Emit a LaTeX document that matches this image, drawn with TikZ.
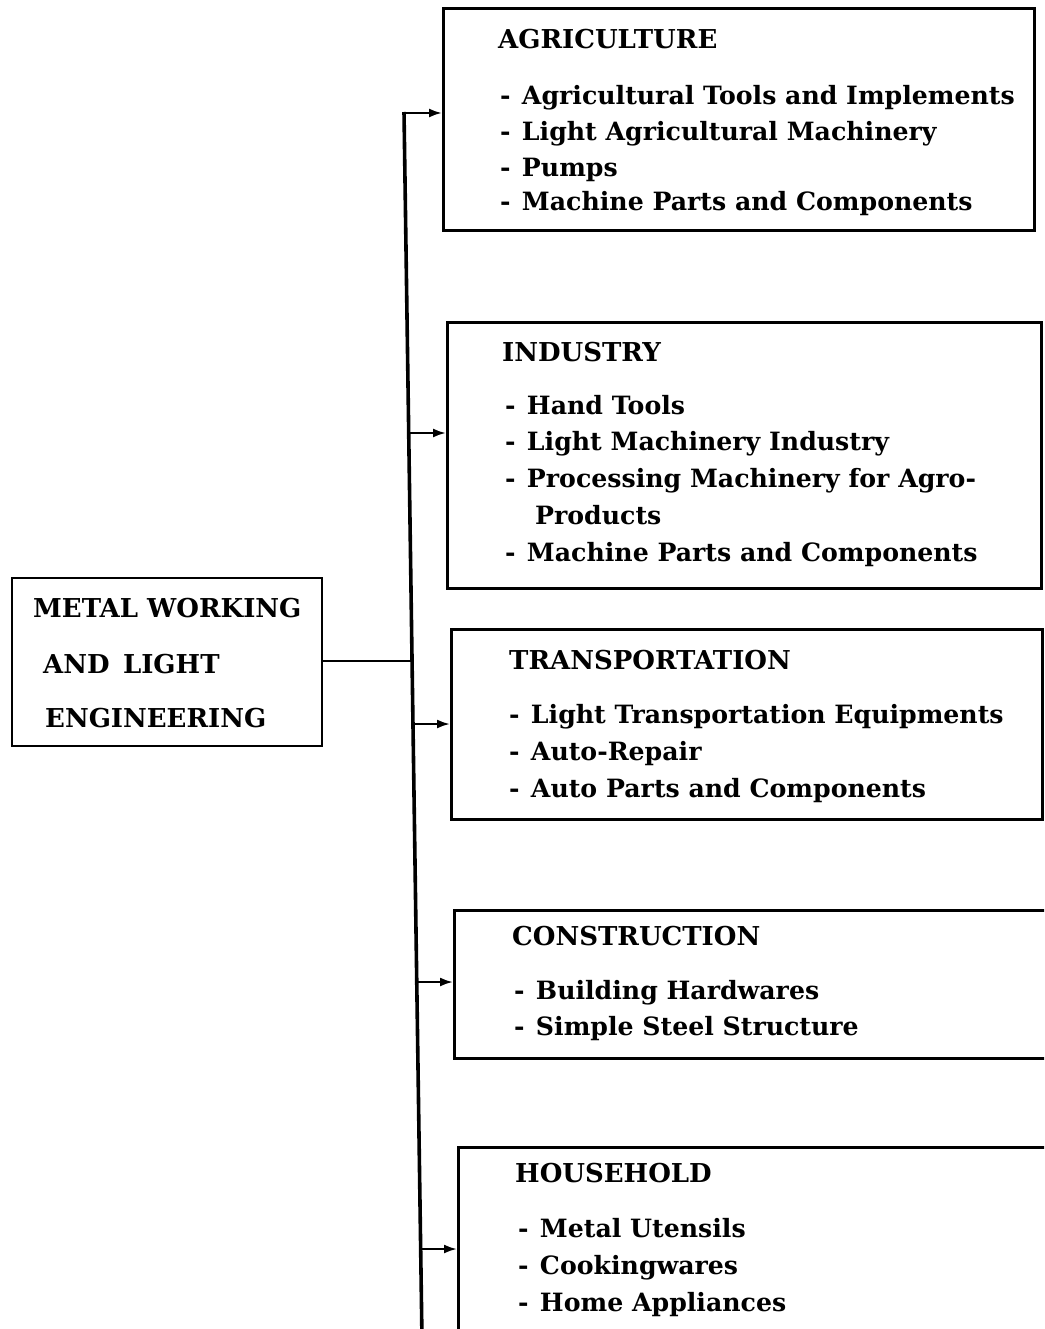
\documentclass[tikz,border=0pt]{standalone}
\usepackage{fontspec}
\setmainfont{DejaVu Serif}
\usetikzlibrary{arrows.meta}
\newcommand{\txtfont}{\fontsize{26}{30}\selectfont\bfseries}
\newcommand{\itmfont}{\fontsize{25.2}{30}\selectfont\bfseries}
\newcommand{\dsh}{-\hspace{0.45em}}
\begin{document}
\begin{tikzpicture}[x=1pt,y=-1pt,
  boxline/.style={line width=2.8pt},
  lbl/.style={anchor=base west, inner sep=0pt, font=\txtfont},
  itm/.style={anchor=base west, inner sep=0pt, font=\itmfont},
  conn/.style={line width=2.2pt},
  arr/.style={line width=2.2pt, -{Latex[length=13pt,width=9pt]}},
  trunkline/.style={line width=3.6pt}]
\useasboundingbox (0,0) rectangle (1044,1329);
\clip (0,0) rectangle (1044,1329);
\fill[white] (0,0) rectangle (1044,1329);

% main box
\node[draw, boxline, minimum width=310pt, minimum height=168pt, inner sep=0pt] (main) at (167,662) {};
\node[lbl] (m1) at (33,617) {METAL WORKING};
\node[lbl] (m2) at (43,673) {AND\, LIGHT};
\node[lbl] (m3) at (45,727) {ENGINEERING};

% boxes (some run past the page edge)
\node[draw, boxline, minimum width=591pt, minimum height=222pt, inner sep=0pt, anchor=north west] (agri) at (442,7) {};
\node[draw, boxline, minimum width=594pt, minimum height=266pt, inner sep=0pt, anchor=north west] (ind) at (446,321) {};
\node[draw, boxline, minimum width=591pt, minimum height=190pt, inner sep=0pt, anchor=north west] (trans) at (450,628) {};
\node[draw, boxline, minimum width=640pt, minimum height=148pt, inner sep=0pt, anchor=north west] (cons) at (453,909) {};
\node[draw, boxline, minimum width=640pt, minimum height=300pt, inner sep=0pt, anchor=north west] (house) at (457,1146) {};

% texts
\node[lbl] (a0) at (498,49) {AGRICULTURE};
\node[itm] (a1) at (500,105) {\dsh Agricultural Tools and Implements};
\node[itm] (a2) at (500,141) {\dsh Light Agricultural Machinery};
\node[itm] (a3) at (500,177) {\dsh Pumps};
\node[itm] (a4) at (500,211) {\dsh Machine Parts and Components};

\node[lbl] (i0) at (502,361) {INDUSTRY};
\node[itm] (i1) at (505,414) {\dsh Hand Tools};
\node[itm] (i2) at (505,450) {\dsh Light Machinery Industry};
\node[itm] (i3) at (505,487) {\dsh Processing Machinery for Agro-};
\node[itm] (i4) at (535,524) {Products};
\node[itm] (i5) at (505,561) {\dsh Machine Parts and Components};

\node[lbl] (t0) at (509,669) {TRANSPORTATION};
\node[itm] (t1) at (509,723) {\dsh Light Transportation Equipments};
\node[itm] (t2) at (509,760) {\dsh Auto-Repair};
\node[itm] (t3) at (509,797) {\dsh Auto Parts and Components};

\node[lbl] (c0) at (512,945) {CONSTRUCTION};
\node[itm] (c1) at (514,999) {\dsh Building Hardwares};
\node[itm] (c2) at (514,1035) {\dsh Simple Steel Structure};

\node[lbl] (h0) at (515,1182) {HOUSEHOLD};
\node[itm] (h1) at (518,1237) {\dsh Metal Utensils};
\node[itm] (h2) at (518,1274) {\dsh Cookingwares};
\node[itm] (h3) at (518,1311) {\dsh Home Appliances};

% trunk (slightly skewed as in the scan)
\coordinate (ttop) at (404,112);
\coordinate (tbot) at (422,1340);
\coordinate (jm) at (412,661);
\coordinate (ja) at (404,113);
\coordinate (ji) at (409,433);
\coordinate (jt) at (413,724);
\coordinate (jc) at (417,982);
\coordinate (jh) at (421,1249);
\draw[trunkline] (ttop) -- (tbot);
\draw[conn] (main.east |- jm) -- (jm);
\draw[arr] (ja) -- (agri.west |- ja);
\draw[arr] (ji) -- (ind.west |- ji);
\draw[arr] (jt) -- (trans.west |- jt);
\draw[arr] (jc) -- (cons.west |- jc);
\draw[arr] (jh) -- (house.west |- jh);
\end{tikzpicture}
\end{document}
